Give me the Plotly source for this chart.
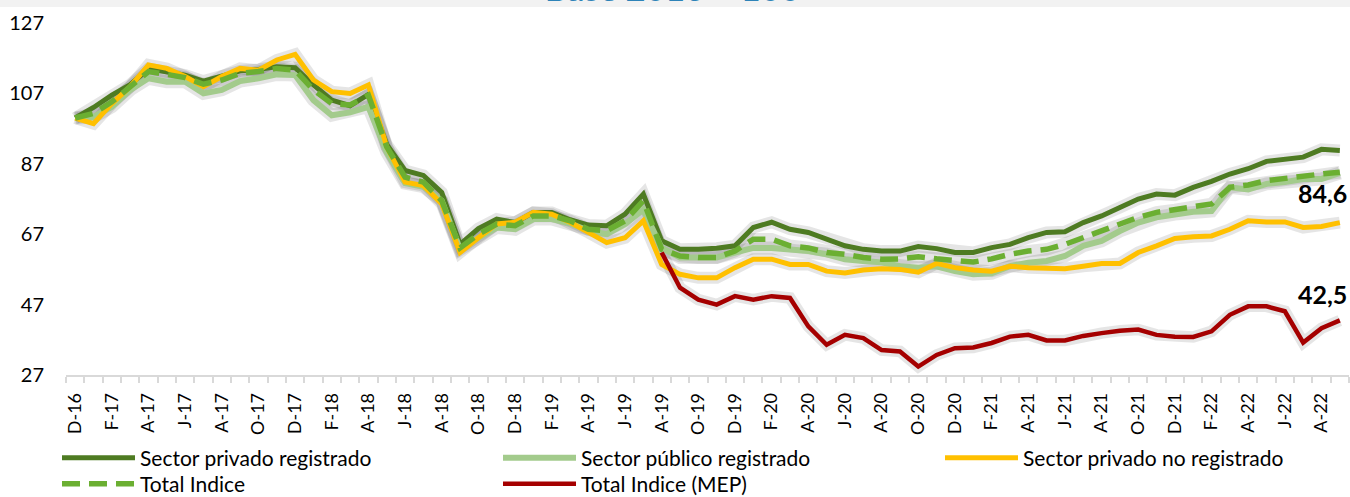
import plotly.graph_objects as go
import pandas as pd

# ---- data -------------------------------------------------------------
months = list(pd.date_range("2016-12-01", periods=70, freq="MS").strftime("%Y-%m"))

tick_labels = ["D-16", "F-17", "A-17", "J-17", "A-17", "O-17", "D-17", "F-18", "A-18",
               "J-18", "A-18", "O-18", "D-18", "F-19", "A-19", "J-19", "A-19", "O-19",
               "D-19", "F-20", "A-20", "J-20", "A-20", "O-20", "D-20", "F-21", "A-21",
               "J-21", "A-21", "O-21", "D-21", "F-22", "A-22", "J-22", "A-22"]

privado_reg = [100, 103.0, 106.5, 109.5, 114.0, 113.2, 112.2, 110.5, 112.0, 113.4,
               113.8, 114.6, 114.3, 109.4, 105.1, 103.5, 106.7, 92.5, 85.1, 83.7,
               78.9, 64.1, 68.6, 71.3, 70.3, 73.2, 73.2, 71.1, 69.6, 69.4,
               72.7, 78.4, 65.1, 62.7, 62.7, 63.0, 63.7, 68.9, 70.4, 68.4,
               67.5, 65.6, 63.7, 62.7, 62.2, 62.2, 63.5, 62.9, 61.8, 61.8,
               63.2, 64.1, 66.0, 67.5, 67.7, 70.3, 72.2, 74.6, 77.0, 78.4,
               78.1, 80.3, 82.0, 84.1, 85.6, 87.7, 88.3, 88.9, 91.1, 90.8]

publico_reg = [100, 100.3, 103.2, 108.0, 111.3, 110.3, 110.3, 107.0, 108.0, 110.5,
               111.3, 112.4, 112.2, 105.1, 100.8, 101.6, 103.2, 90.3, 81.5, 80.5,
               76.5, 62.7, 66.0, 68.9, 68.4, 71.3, 71.3, 70.1, 68.0, 67.0,
               69.9, 74.0, 63.1, 60.4, 60.4, 60.4, 61.8, 63.1, 63.1, 62.7,
               62.2, 61.3, 59.9, 59.4, 59.0, 57.9, 57.5, 57.9, 56.5, 55.6,
               55.9, 57.9, 58.9, 59.4, 60.8, 63.7, 65.1, 67.9, 70.3, 71.8,
               72.7, 73.4, 73.6, 80.3, 79.7, 81.3, 81.8, 82.7, 82.7, 84.4]

privado_no_reg = [100, 98.4, 104.1, 108.9, 115.1, 114.1, 111.8, 108.9, 111.8, 114.1,
                  113.6, 116.5, 118.1, 110.8, 107.5, 107.0, 109.4, 91.8, 81.8, 80.8,
                  75.6, 61.8, 66.0, 69.9, 70.4, 73.2, 72.7, 70.4, 67.5, 64.6,
                  66.0, 70.8, 58.4, 55.6, 54.6, 54.6, 57.5, 59.9, 59.9, 58.4,
                  58.4, 56.5, 56.0, 56.8, 57.2, 57.0, 56.2, 58.7, 57.5, 56.8,
                  56.5, 57.9, 57.5, 57.2, 57.2, 57.9, 58.7, 58.7, 61.8, 63.7,
                  65.8, 66.3, 66.5, 68.4, 70.8, 70.5, 70.5, 68.9, 69.2, 70.3]

total_indice = [100, 101.3, 104.6, 108.9, 113.2, 112.4, 111.5, 109.6, 110.8, 112.7,
                113.2, 114.1, 113.6, 108.0, 104.1, 103.7, 106.5, 91.8, 83.2, 81.8,
                76.5, 63.1, 67.0, 69.9, 69.4, 72.2, 72.2, 70.8, 68.4, 68.0,
                70.8, 76.5, 62.7, 60.8, 60.4, 60.4, 62.2, 65.6, 65.6, 63.7,
                63.1, 61.8, 61.3, 60.4, 59.9, 60.0, 60.6, 60.0, 59.4, 59.1,
                60.0, 61.3, 62.2, 62.7, 64.1, 66.0, 67.9, 69.9, 71.8, 73.2,
                73.9, 74.9, 75.6, 80.3, 81.0, 82.2, 82.9, 83.5, 84.1, 84.6]

total_mep = [None] * 32 + [61.8, 51.8, 48.4, 47.0, 49.4, 48.4, 49.4, 48.9,
                           40.8, 35.6, 38.4, 37.5, 34.1, 33.7, 29.4, 32.7, 34.6, 34.8,
                           36.1, 37.9, 38.4, 36.8, 36.8, 38.1, 38.9, 39.6, 39.9, 38.4,
                           37.9, 37.8, 39.4, 44.1, 46.5, 46.5, 45.1, 36.2, 40.3, 42.5]

y_ticks = [27, 47, 67, 87, 107, 127]

# ---- layout geometry (pixels) ------------------------------------------
W, H = 1350, 497
ML, MR, MT, MB = 66, 1, 23, 122
PW, PH = W - ML - MR, H - MT - MB


def px(x):
    return (x - ML) / PW


def py(y):
    return (H - MB - y) / PH


FONT = "Lato"
series = [
    ("Sector privado registrado", privado_reg, "#4E7B22", 5, "solid", "legend", 57, 458),
    ("Sector público registrado", publico_reg, "#A3CB8C", 6, "solid", "legend2", 498, 458),
    ("Sector privado no registrado", privado_no_reg, "#FFC000", 5, "solid", "legend3", 940, 458),
    ("Total Indice", total_indice, "#6BAF32", 5.5, "18px,9px", "legend4", 57, 484),
    ("Total Indice (MEP)", total_mep, "#A50000", 4.5, "solid", "legend5", 498, 484),
]

fig = go.Figure()
# soft shadows under the lines
for name, vals, color, w, dash, lg, lx, ly in series:
    fig.add_trace(go.Scatter(x=months, y=vals, mode="lines", showlegend=False,
                             hoverinfo="skip",
                             line=dict(color="rgba(0,0,0,0.10)", width=w + 7)))
for name, vals, color, w, dash, lg, lx, ly in series:
    fig.add_trace(go.Scatter(x=months, y=vals, mode="lines", name=name, legend=lg,
                             line=dict(color=color, width=w, dash=dash)))

ticktext = [tick_labels[i // 2] if i % 2 == 0 else "" for i in range(len(months))]

legend_layouts = {}
for name, vals, color, w, dash, lg, lx, ly in series:
    legend_layouts[lg] = dict(orientation="v", x=px(lx), xanchor="left",
                              y=py(ly), yanchor="middle", itemwidth=73,
                              font=dict(family=FONT, size=21, color="#000000"),
                              bgcolor="rgba(0,0,0,0)", borderwidth=0)

fig.update_layout(
    width=W, height=H,
    margin=dict(l=ML, r=MR, t=MT, b=MB, autoexpand=False),
    paper_bgcolor="white", plot_bgcolor="white",
    font=dict(family=FONT, color="#000000"),
    showlegend=True,
    xaxis=dict(type="category", categoryorder="array", categoryarray=months,
               range=[-0.5, 69.5], tickmode="array", tickvals=months, ticktext=ticktext,
               tickson="boundaries", ticks="outside", ticklen=6, tickwidth=1.5,
               tickcolor="#D9D9D9", showline=True, linecolor="#D9D9D9", linewidth=1.5,
               showgrid=False, zeroline=False, tickangle=-90, automargin=False,
               ticklabelstandoff=9,
               tickfont=dict(family=FONT, size=18, color="#000000")),
    yaxis=dict(range=[27, 127], tickmode="array", tickvals=y_ticks,
               showgrid=False, zeroline=False, showline=False, ticks="",
               ticklabelstandoff=21, automargin=False,
               tickfont=dict(family=FONT, size=20, color="#000000")),
    **legend_layouts,
)

# top grey band with clipped title (the reference shows it cut at the top edge)
fig.add_shape(type="rect", xref="paper", yref="paper",
              x0=px(-10), x1=px(W + 10), y0=py(7), y1=py(-20),
              fillcolor="#F2F2F2", line=dict(width=0), layer="below")
fig.add_annotation(text="<b>Base 2016 = 100</b>", xref="paper", yref="paper",
                   x=px(672), y=py(10), xanchor="center", yanchor="bottom",
                   showarrow=False,
                   font=dict(family=FONT, size=34, color="#2E83B8"))

# end-value labels
fig.add_annotation(text="<b>84,6</b>", x=months[-1], y=78.6, xanchor="right",
                   xshift=9, showarrow=False,
                   font=dict(family=FONT, size=25, color="#000000"))
fig.add_annotation(text="<b>42,5</b>", x=months[-1], y=49.9, xanchor="right",
                   xshift=9, showarrow=False,
                   font=dict(family=FONT, size=25, color="#000000"))

fig.write_html("out.html", config={"displayModeBar": False},
               post_script="document.body.style.margin='0px';")
